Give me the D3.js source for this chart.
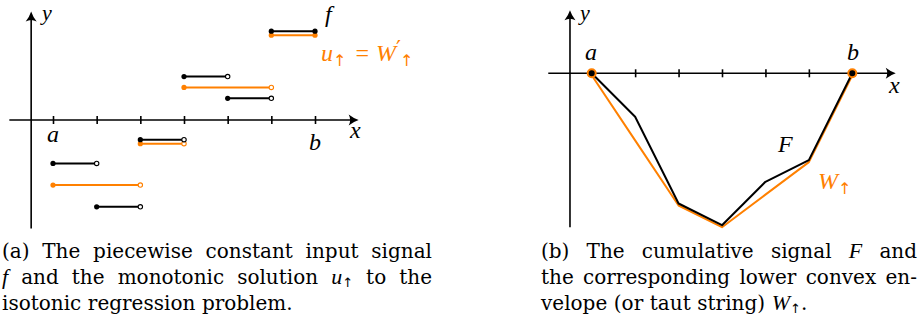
<!DOCTYPE html>
<html>
<head>
<meta charset="utf-8">
<script src="https://cdn.jsdelivr.net/npm/d3@7"></script>
<style>
body { margin: 0; background: #fff; }
text { font-family: "DejaVu Serif", serif; fill: #000; }
.math { font-family: "Liberation Serif", serif; font-style: italic; }
</style>
</head>
<body>
<svg id="fig" width="920" height="327"></svg>
<script>
// input signal f, constant on [k, k+1), and isotonic solution u (same grid)
const knots = [0, 1, 2, 3, 4, 5, 6];
const fVals = [-2, -4, -1, 2, 1, 4];
const uVals = [-3, -3, -1, 1.5, 1.5, 4];
// cumulative signal F and its lower convex envelope W at the knots
const FVals = [0, -2, -6, -7, -5, -4, 0];
const WVals = [0, -3, -6, -7, -5.5, -4, 0];
const tickVals = [0, 1, 2, 3, 4, 5, 6];

const ORANGE = "#ff8000";
const MATH_FS = 24;
const svg = d3.select("#fig");

// left panel scales
const xL = d3.scaleLinear().domain([0, 6]).range([53, 315]);
const yL = d3.scaleLinear().domain([0, 4]).range([120, 33.2]);
// right panel scales
const xR = d3.scaleLinear().domain([0, 6]).range([591.7, 852.3]);
const yR = d3.scaleLinear().domain([0, -7]).range([73.3, 225.2]);

function arrowHead(g, x, y, angle) {
    g.append("path")
        .attr("d", "M0,0 Q-5,-1.6 -10,-5.5 Q-7,0 -10,5.5 Q-5,1.6 0,0Z")
        .attr("transform", "translate(" + x + "," + y + ") rotate(" + angle + ")")
        .attr("fill", "#000");
}

function drawAxes(x, y, yLo, yHi) {
    const g = svg.append("g");
    g.append("line")
        .attr("x1", x(-1)).attr("x2", x(7) - 3)
        .attr("y1", y(0)).attr("y2", y(0))
        .attr("stroke", "#000").attr("stroke-width", 1.6);
    arrowHead(g, x(7), y(0), 0);
    g.append("line")
        .attr("x1", x(-0.5)).attr("x2", x(-0.5))
        .attr("y1", y(yLo)).attr("y2", y(yHi) + 3)
        .attr("stroke", "#000").attr("stroke-width", 1.6);
    arrowHead(g, x(-0.5), y(yHi), -90);
    // ticks crossing the axis
    const ax = g.append("g")
        .attr("transform", "translate(0," + (y(0) - 4) + ")")
        .call(d3.axisBottom(x).tickValues(tickVals).tickSize(8).tickFormat(""));
    ax.select(".domain").remove();
    ax.selectAll(".tick line").attr("stroke", "#000").attr("stroke-width", 1.6);
    return g;
}

function mathLabel(x, y, parts, color, size) {
    const t = svg.append("text").attr("x", x).attr("y", y)
        .style("font-size", (size || MATH_FS) + "px").style("fill", color || "#000");
    parts.forEach(p => {
        const s = t.append("tspan").text(p.t);
        if (p.m) s.attr("class", "math");
        if (p.dx) s.attr("dx", p.dx);
        if (p.dy) s.attr("dy", p.dy);
        if (p.fs) s.style("font-size", p.fs + "px");
        if (!p.m) s.style("font-family", p.fam || "Liberation Serif");
        s.style("fill", color || "#000");
    });
}

// ---------- left panel ----------
drawAxes(xL, yL, -5, 5);

// group consecutive unit intervals with the same value into one step
function runs(vals) {
    const out = [];
    vals.forEach((v, i) => {
        const prev = out[out.length - 1];
        if (prev && prev.v === v) prev.x1 = knots[i + 1];
        else out.push({ x0: knots[i], x1: knots[i + 1], v: v });
    });
    out[out.length - 1].last = true;
    return out;
}
const fRuns = runs(fVals);
const uRuns = runs(uVals);
// where both signals coincide, nudge them apart so both stay visible
function markShared(a, b) {
    a.forEach(r => {
        r.off = b.some(s => s.x0 === r.x0 && s.x1 === r.x1 && s.v === r.v) ? 2 : 0;
    });
}
markShared(fRuns, uRuns);
markShared(uRuns, fRuns);

function drawSteps(data, color, sign) {
    const g = svg.append("g");
    const yy = d => yL(d.v) + sign * d.off;
    g.selectAll("line").data(data).join("line")
        .attr("x1", d => xL(d.x0)).attr("x2", d => xL(d.x1))
        .attr("y1", yy).attr("y2", yy)
        .attr("stroke", color).attr("stroke-width", 2);
    g.selectAll("circle.l").data(data).join("circle")
        .attr("class", "l")
        .attr("cx", d => xL(d.x0)).attr("cy", yy)
        .attr("r", 2.6).attr("fill", color);
    g.selectAll("circle.r").data(data).join("circle")
        .attr("class", "r")
        .attr("cx", d => xL(d.x1)).attr("cy", yy)
        .attr("r", d => d.last ? 2.6 : 2.2)
        .attr("fill", d => d.last ? color : "#fff")
        .attr("stroke", color).attr("stroke-width", d => d.last ? 0 : 1.1);
}
drawSteps(uRuns, ORANGE, 1);
drawSteps(fRuns, "#000", -1);

mathLabel(42, 20, [{ t: "y", m: 1 }], null, 22);
mathLabel(350, 138, [{ t: "x", m: 1 }]);
mathLabel(47, 142, [{ t: "a", m: 1 }]);
mathLabel(309, 150, [{ t: "b", m: 1 }]);
mathLabel(325, 22, [{ t: "f", m: 1 }]);
mathLabel(321, 61, [
    { t: "u", m: 1 },
    { t: "↑", fs: 16, dy: 5, fam: "DejaVu Sans" },
    { t: "=", dy: -5, dx: 9 },
    { t: "W", m: 1, dx: 7 },
    { t: "′", fs: 22, dy: -5, dx: 0, fam: "DejaVu Sans" },
    { t: "↑", fs: 16, dy: 10, dx: -1, fam: "DejaVu Sans" }
], ORANGE);

// ---------- right panel ----------
drawAxes(xR, yR, -7.1, 2.9);

const ptsF = knots.map((k, i) => [k, FVals[i]]);
const ptsW = knots.map((k, i) => [k, WVals[i]]);
const line = d3.line().x(d => xR(d[0])).y(d => yR(d[1]));

svg.append("path").datum(ptsW).attr("d", line)
    .attr("transform", "translate(0,2)")
    .attr("fill", "none").attr("stroke", ORANGE).attr("stroke-width", 2)
    .attr("stroke-linejoin", "round");
svg.append("path").datum(ptsF).attr("d", line)
    .attr("fill", "none").attr("stroke", "#000").attr("stroke-width", 2)
    .attr("stroke-linejoin", "round");

svg.selectAll("circle.end").data([ptsF[0], ptsF[ptsF.length - 1]]).join("circle")
    .attr("class", "end")
    .attr("cx", d => xR(d[0])).attr("cy", d => yR(d[1]))
    .attr("r", 4).attr("fill", "#000")
    .attr("stroke", ORANGE).attr("stroke-width", 2);

mathLabel(580, 20, [{ t: "y", m: 1 }], null, 22);
mathLabel(585, 60, [{ t: "a", m: 1 }]);
mathLabel(847, 60, [{ t: "b", m: 1 }]);
mathLabel(889, 93, [{ t: "x", m: 1 }]);
mathLabel(778, 152, [{ t: "F", m: 1 }]);
mathLabel(818, 189, [
    { t: "W", m: 1 },
    { t: "↑", fs: 16, dy: 5, fam: "DejaVu Sans" }
], ORANGE);

// ---------- captions ----------
const CAP_FS = 20;
const capA = [
    { words: ["(a)", "The", "piecewise", "constant", "input", "signal"], just: true },
    { words: [[{ t: "f", m: 1 }], "and", "the", "monotonic", "solution", [{ t: "u", m: 1 }, { t: "↑", s: 1 }], "to", "the"], just: true },
    { words: ["isotonic", "regression", "problem."], just: false }
];
const capB = [
    { words: ["(b)", "The", "cumulative", "signal", [{ t: "F", m: 1 }], "and"], just: true },
    { words: ["the", "corresponding", "lower", "convex", "en-"], just: true },
    { words: ["velope", "(or", "taut", "string)", [{ t: "W", m: 1 }, { t: "↑", s: 1 }, { t: ".", back: 1 }]], just: false }
];

function wordText(y, w) {
    const t = svg.append("text").attr("y", y).style("font-size", CAP_FS + "px");
    if (typeof w === "string") { t.text(w); return t; }
    w.forEach(p => {
        const s = t.append("tspan").text(p.t);
        if (p.m) s.attr("class", "math").style("font-size", (CAP_FS + 2) + "px");
        if (p.s) s.style("font-size", "13px").style("font-family", "DejaVu Sans").attr("dy", 3);
        if (p.back) s.attr("dy", -3);
    });
    return t;
}

function caption(lines, x0, x1, y0, lh) {
    lines.forEach((ln, li) => {
        const y = y0 + li * lh;
        const nodes = ln.words.map(w => wordText(y, w));
        const widths = nodes.map(n => n.node().getComputedTextLength());
        const total = d3.sum(widths);
        const gap = ln.just ? (x1 - x0 - total) / (nodes.length - 1) : CAP_FS * 0.33;
        let x = x0;
        nodes.forEach((n, i) => {
            n.attr("x", x);
            x += widths[i] + gap;
        });
    });
}

caption(capA, 2, 432, 258, 26);
caption(capB, 541, 917, 258, 26);
</script>
</body>
</html>
